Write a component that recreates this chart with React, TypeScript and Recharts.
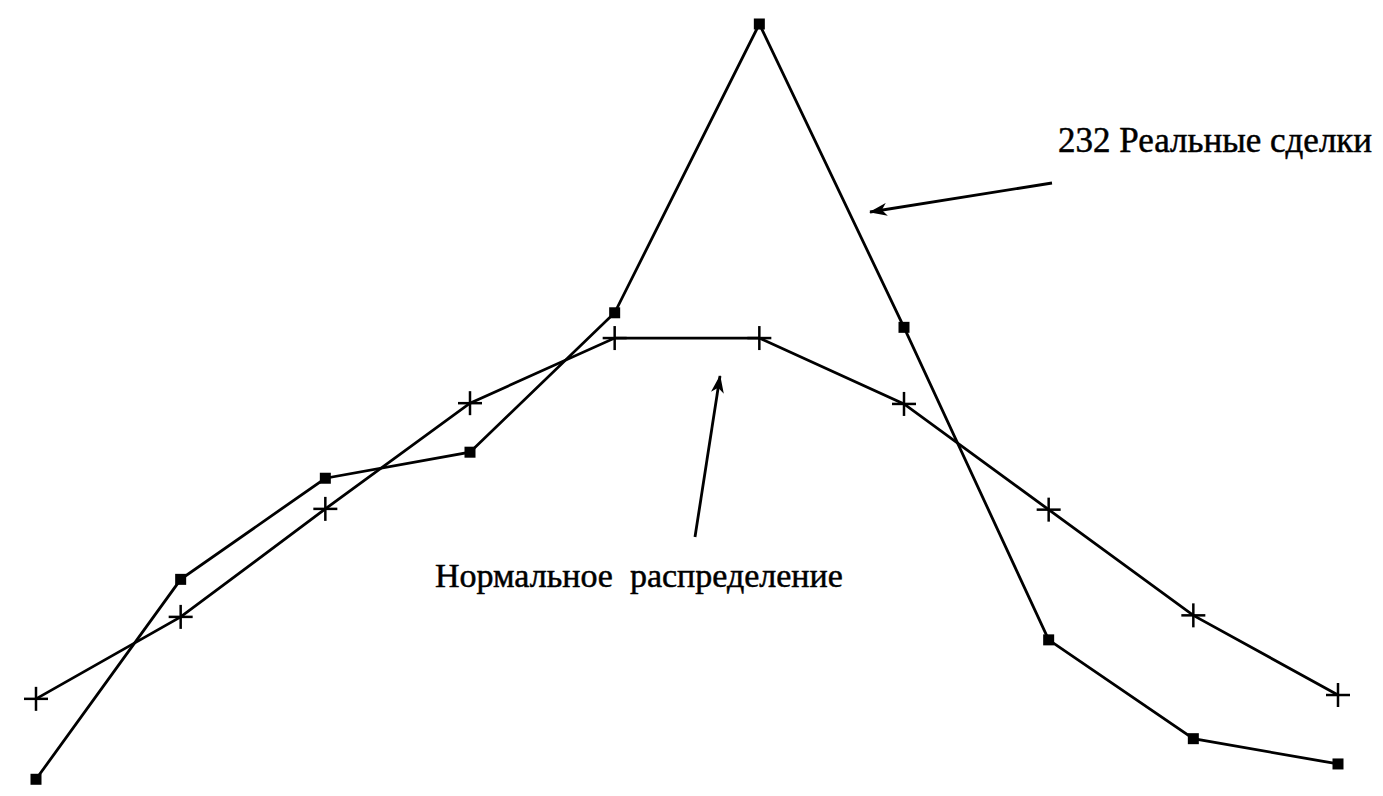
import React from "react"
import { LineChart, Line, XAxis, YAxis } from "recharts"

// bins of the trade result distribution (no labels in the original)
const bins = ["1", "2", "3", "4", "5", "6", "7", "8", "9", "10"]
// relative frequency, peak = 100
const realTrades = [1.4, 27.5, 40.7, 44.1, 62.3, 100, 60.4, 19.6, 6.7, 3.4]
const normalDist = [11.9, 22.6, 36.7, 50.5, 59.0, 59.0, 50.4, 36.6, 22.8, 12.4]

const realLabel = "232 Реальные сделки"
const normalLabel = "Нормальное  распределение"

const data = bins.map((b, i) => ({ bin: b, real: realTrades[i], normal: normalDist[i] }))

const W = 1383
const H = 796

const SquareDot = (props: any) => {
  const { cx, cy } = props
  if (cx == null || cy == null) return null
  return <rect x={cx - 5.5} y={cy - 5.5} width={11} height={11} fill="#000" />
}

const PlusDot = (props: any) => {
  const { cx, cy } = props
  if (cx == null || cy == null) return null
  return (
    <g stroke="#000" strokeWidth={2.5}>
      <line x1={cx - 12} y1={cy} x2={cx + 12} y2={cy} />
      <line x1={cx} y1={cy - 12} x2={cx} y2={cy + 12} />
    </g>
  )
}

export default function App() {
  return (
    <div style={{ position: "absolute", left: 0, top: 0, width: W, height: H, background: "#fff" }}>
      <LineChart width={W} height={H} data={data} margin={{ top: 24, right: 45, bottom: 6, left: 36 }}>
        <XAxis dataKey="bin" hide />
        <YAxis hide domain={[0, 100]} />
        <Line
          dataKey="normal"
          stroke="#000"
          strokeWidth={2.8}
          dot={<PlusDot />}
          activeDot={false}
          isAnimationActive={false}
        />
        <Line
          dataKey="real"
          stroke="#000"
          strokeWidth={2.8}
          dot={<SquareDot />}
          activeDot={false}
          isAnimationActive={false}
        />
      </LineChart>
      <svg width={W} height={H} style={{ position: "absolute", left: 0, top: 0, pointerEvents: "none" }}>
        <defs>
          <marker id="head" markerWidth="18" markerHeight="13" refX="17" refY="6.5" orient="auto" markerUnits="userSpaceOnUse">
            <path d="M0,0 L18,6.5 L0,13 L5,6.5 Z" fill="#000" />
          </marker>
        </defs>
        <line x1={1052} y1={183} x2={870} y2={212} stroke="#000" strokeWidth={2.8} markerEnd="url(#head)" />
        <line x1={695} y1={537} x2={720} y2={376} stroke="#000" strokeWidth={2.8} markerEnd="url(#head)" />
        <g fontFamily="'Liberation Serif', serif" fill="#000" stroke="#000" strokeWidth={0.5}>
          <text x={1058} y={152} fontSize={35}>
            {realLabel}
          </text>
          <text x={435} y={587} fontSize={34} style={{ whiteSpace: "pre" }}>
            {normalLabel}
          </text>
        </g>
      </svg>
    </div>
  )
}
